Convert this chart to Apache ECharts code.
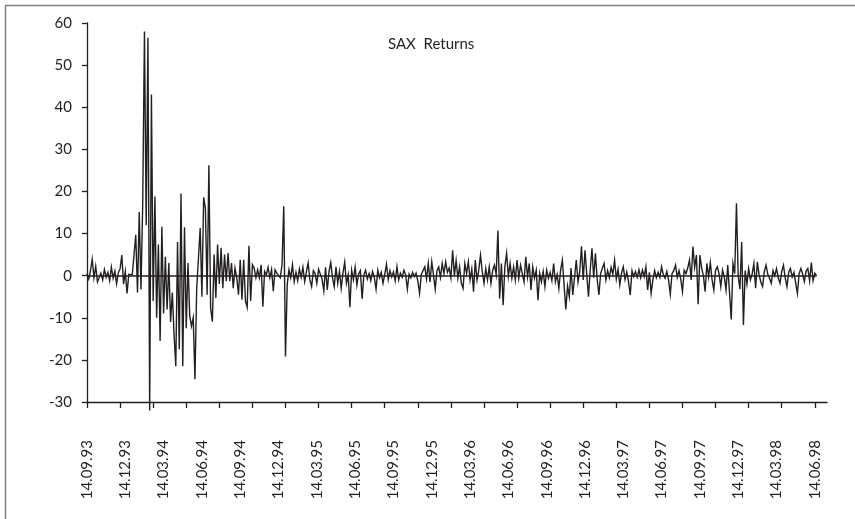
<!DOCTYPE html>
<html>
<head>
<meta charset="utf-8">
<script src="https://cdn.jsdelivr.net/npm/echarts@6/dist/echarts.min.js"></script>
<style>
html,body{margin:0;padding:0;background:#fff;}
#chart{width:855px;height:519px;}
</style>
</head>
<body>
<div id="chart"></div>
<script>
// Quarter tick labels shown on the x axis
var tickLabels = ["14.09.93","14.12.93","14.03.94","14.06.94","14.09.94","14.12.94","14.03.95","14.06.95","14.09.95","14.12.95","14.03.96","14.06.96","14.09.96","14.12.96","14.03.97","14.06.97","14.09.97","14.12.97","14.03.98","14.06.98"];

var returns1 = [0.5,-0.8,1.2,3.9,-0.5,2.2,-1.5,-1.8,0.6,-1.0,1.5,-0.4,0.8,-1.2,2.0,-0.6,1.1,-1.9,0.7,1.6,
 4.9,-2,1,-4.2,0.3,0.5,0.2,0.6,9.7,-4,15.1,-3.3,17.2,58,12,56.5,-32,43,-6,18.8,
 -10,7.4,-15.5,11.6,-9,4.5,-8,3,-11,-4,-14,-21.5,8,-17.5,19.5,-21.5,11.5,-12.5,3,-9.5,
 -12,-10,-24.6,-3,4,11.3,-5,18.6,16,-4.5,26.2,-7.7,-10.9,5,-5.3,7.4,-2,6.6,-3,5,
 -1.3,5.4,-1.3,3,-3,1.8,-0.5,-4.5,3.8,-5.7,3.8,-6,-7.5,7.1,-6,2.6,1.8,-0.5,1.4,-0.5];
var returns2 = [2.6,-7.4,1.0,0.2,2,-0.5,1.5,-3.7,1.4,0.6,1,-0.5,2.6,16.5,-19.2,-2,1.4,-0.5,2.6,-1.4,
 0.8,-1.2,1.6,-0.4,2,-1.4,0.9,3,-1,-2.6,1.2,0.5,-1.8,1.5,1.5,-0.8,-3.6,2,-3.4,1,
 3.1,-0.5,-2.6,2.1,-1.8,1,-3,0.6,3.2,-1.8,0.2,-7.5,1.3,-1.0,2,-2.2,0.4,1.2,-5.5,0.2,
 1.3,-0.8,0.5,-1.2,1.0,-0.4,-3.2,1.3,-0.5,0.8,-1.8,0.3,2.7,-0.9,1.2,-0.3,0.9,-1.2,2.1,-1,
 0.6,-0.4,1.3,0.2,-3.2,0.4,-0.5,0.8,-0.2,0.6,-1.3,-4.2,0.3,1.2,2.1,-0.8,2.9,-1.5,3.3,0.2];
var returns3 = [-3.2,1.2,2.1,-0.4,2.9,0.5,3.3,0.8,1.8,-0.5,6,0,3.6,-0.6,2.1,-1.8,-3,2.9,0.5,3.3,
 -1,1.6,-3.8,3.7,-1,1.3,4.9,1,-1.8,1.7,-1,2.1,-1.8,1.3,2.5,0.2,10.7,-5.4,2.9,-7,
 2.2,5.3,-0.2,2.9,-0.6,2.1,-1,3.7,-0.6,2.5,0.5,-1.5,4.5,-0.3,2.9,-3.4,2.1,-0.6,1.3,-5.8,
 0.5,-1.5,1,-2.6,1.3,-0.6,0.8,-1.2,2.9,-1.5,0.3,-3,1.3,3.7,-2.2,-8,-2.5,-5,1.8,-4.6,
 -4.2,3.7,-1.5,1,7,-1,6,0.5,-5,1.3,6.5,-0.5,5.3,-0.8,-4.6,0.5,1.8,2.9,-1,1.2];
var returns4 = [-0.5,2,0.3,3.7,-0.8,1.5,-2.2,0.6,2.1,-0.9,0.9,-1.4,-4.6,1.2,-0.2,1,-0.4,1.4,-0.5,1.3,
 -0.2,2.1,-3.4,0.8,-4.2,-1,1.2,-0.5,0.8,-0.4,2.1,0.2,-0.6,1,-1,-4.4,0.5,1.2,2.5,-0.4,
 1.2,-0.8,-3.8,1.3,0.5,1.8,3.7,-1,6.9,2,4.9,-6.8,4.9,1.8,0,-3.8,2.9,-0.3,3.1,-1,
 -3.4,1.3,2.1,0.5,-2.6,1.3,-0.3,-3.4,2.5,2.9,-10.4,2.9,0.5,17.2,-0.2,-3.2,8,-11.7,1.2,-2,
 1.7,-1,0.4,2.9,-3,3.3,0.2,-1.5,-2.6,1,2.5,0.3,-0.6,-1.8,1.2,0,1.7,-0.5,-1.8,1,
 2.5,-0.5,-2.6,0.8,1.7,-0.3,0.8,1.2,-4.2,0.5,1.7,0.4,-1.4,1.1,1.7,-1.2,3.1,-1.2,0.6,0];

var values = returns1.concat(returns2, returns3, returns4);
var labelEvery = 22;     // categories between date labels
var tickEvery = 19;      // categories between tick marks
var categoryCount = 426; // axis length in categories

var categories = [];
for (var i = 0; i < categoryCount; i++) {
  var k = i / labelEvery;
  categories.push(i % labelEvery === 0 && k < tickLabels.length ? tickLabels[k] : '');
}

var FONT = 'Lato, "Open Sans", sans-serif';
var chart = echarts.init(document.getElementById('chart'), null, {renderer: 'canvas'});
chart.setOption({
  animation: false,
  backgroundColor: '#ffffff',
  title: {
    text: 'SAX  Returns',
    left: 383, top: 32,
    textStyle: {fontFamily: FONT, fontSize: 15, fontWeight: 'normal', color: '#231f20'}
  },
  graphic: [{
    type: 'rect', silent: true,
    shape: {x: 5.5, y: 5.5, width: 900, height: 600},
    style: {fill: 'none', stroke: '#808080', lineWidth: 1.5}
  }],
  grid: {left: 87, right: 28, top: 23, bottom: 117, containLabel: false},
  xAxis: {
    type: 'category',
    data: categories,
    boundaryGap: false,
    axisLine: {onZero: false, lineStyle: {color: '#231f20', width: 1.3}},
    axisTick: {show: true, interval: tickEvery - 1, length: 6, inside: false, lineStyle: {color: '#231f20', width: 1.3}},
    axisLabel: {interval: labelEvery - 1, rotate: 90, margin: 38, fontFamily: FONT, fontSize: 15, color: '#231f20', hideOverlap: false},
    splitLine: {show: false}
  },
  yAxis: {
    type: 'value',
    min: -30, max: 60, interval: 10,
    axisLine: {show: true, lineStyle: {color: '#231f20', width: 1.3}},
    axisTick: {show: true, length: 5, lineStyle: {color: '#231f20', width: 1.3}},
    axisLabel: {margin: 15, fontFamily: FONT, fontSize: 15, color: '#231f20'},
    splitLine: {show: false}
  },
  series: [{
    type: 'line',
    data: values,
    showSymbol: false,
    clip: false,
    lineStyle: {color: '#231f20', width: 1.4, join: 'miter'},
    markLine: {
      silent: true, symbol: 'none', animation: false,
      label: {show: false},
      lineStyle: {color: '#231f20', width: 1.6, type: 'solid'},
      data: [[{coord: [0, 0]}, {coord: [values.length - 1, 0]}]]
    }
  }]
});
</script>
</body>
</html>
